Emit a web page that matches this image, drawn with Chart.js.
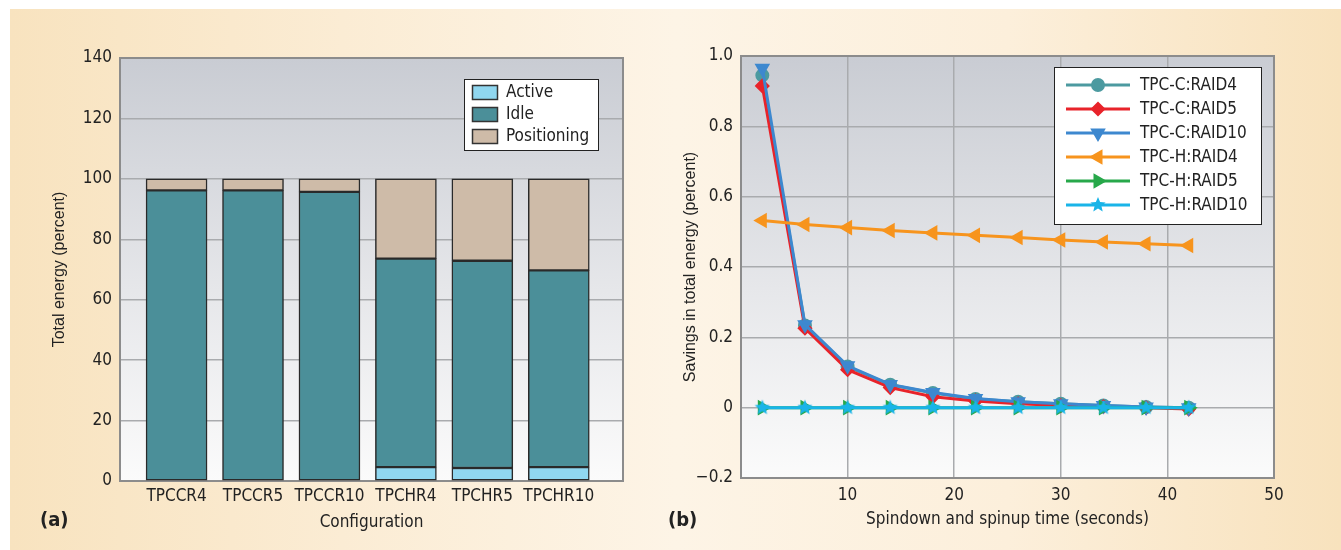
<!DOCTYPE html>
<html>
<head>
<meta charset="utf-8">
<script src="https://cdn.jsdelivr.net/npm/chart.js@4.4.1/dist/chart.umd.min.js"></script>
<style>
  html, body { margin: 0; padding: 0; background: #fff; }
  #page { position: relative; width: 1341px; height: 550px; overflow: hidden; background: #fff; }
  #bg {
    position: absolute; left: 10px; top: 9px; right: 0; bottom: 0;
    background: linear-gradient(to right, #f8e3bf 0%, #fbecd4 25%, #fdf4e6 50%, #fcefdb 75%, #f8e2bd 100%);
  }
  .box { position: absolute; top: 0; height: 550px; }
  #boxA { left: 0; width: 660px; }
  #boxB { left: 660px; width: 681px; }
  .tag {
    position: absolute; top: 507px; font: bold 20px 'DejaVu Sans Condensed', sans-serif;
    color: #222;
  }
</style>
</head>
<body>
<div id="page">
  <div id="bg"></div>
  <div class="box" id="boxA"><canvas id="energyChart"></canvas></div>
  <div class="box" id="boxB"><canvas id="savingsChart"></canvas></div>
  <div class="tag" style="left:40px">(a)</div>
  <div class="tag" style="left:668px">(b)</div>
</div>
<script>
// ---- data: panel (a)
const configLabels = ['TPCCR4', 'TPCCR5', 'TPCCR10', 'TPCHR4', 'TPCHR5', 'TPCHR10'];
const activeEnergy = [0, 0, 0, 4.6, 4.3, 4.6];
const idleEnergy = [96.2, 96.2, 95.7, 69.0, 68.6, 65.1];
const positioningEnergy = [3.8, 3.8, 4.3, 26.4, 27.1, 30.3];

// ---- data: panel (b)
const spinTimes = [2, 6, 10, 14, 18, 22, 26, 30, 34, 38, 42];
const tpccRaid4 = [0.945, 0.234, 0.117, 0.065, 0.042, 0.025, 0.017, 0.011, 0.006, 0.002, 0.0];
const tpccRaid5 = [0.915, 0.226, 0.108, 0.057, 0.031, 0.019, 0.011, 0.006, 0.003, 0.0, -0.004];
const tpccRaid10 = [0.965, 0.236, 0.119, 0.066, 0.043, 0.026, 0.017, 0.011, 0.006, 0.002, 0.0];
const tpchRaid4 = [0.532, 0.521, 0.512, 0.504, 0.497, 0.490, 0.484, 0.477, 0.471, 0.466, 0.461];
const tpchRaid5 = [0, 0, 0, 0, 0, 0, 0, 0, 0, 0, 0];
const tpchRaid10 = [0, 0, 0, 0, 0, 0, 0, 0, 0, 0, 0];

const NARROW = "'DejaVu Sans Condensed', 'Liberation Sans Narrow', sans-serif";
const REGULAR = "'Liberation Sans', Arial, sans-serif";
const FS = 17;

Chart.defaults.animation = false;
Chart.defaults.color = '#222';

// gradient plot background + grey frame
const plotFrame = {
  id: 'plotFrame',
  beforeDraw(chart) {
    const { ctx, chartArea: a } = chart;
    const g = ctx.createLinearGradient(0, a.top, 0, a.bottom);
    g.addColorStop(0, '#c9ccd3');
    g.addColorStop(0.55, '#e6e7ea');
    g.addColorStop(1, '#fbfbfb');
    ctx.save();
    ctx.fillStyle = g;
    ctx.fillRect(a.left, a.top, a.right - a.left, a.bottom - a.top);
    ctx.restore();
  },
  beforeDatasetsDraw(chart) {
    const { ctx, chartArea: a } = chart;
    ctx.save();
    ctx.strokeStyle = '#8c8c8c';
    ctx.lineWidth = 2;
    ctx.strokeRect(a.left, a.top, a.right - a.left, a.bottom - a.top);
    ctx.restore();
  }
};

// boxed legend for the bar chart
const barLegend = {
  id: 'barLegend',
  afterDraw(chart) {
    const ctx = chart.ctx;
    const x = 464, y = 79, w = 134, h = 71;
    ctx.save();
    ctx.fillStyle = '#fff';
    ctx.fillRect(x, y, w, h);
    ctx.strokeStyle = '#222';
    ctx.lineWidth = 1;
    ctx.strokeRect(x + 0.5, y + 0.5, w, h);
    ctx.font = FS + 'px ' + NARROW;
    ctx.textBaseline = 'middle';
    chart.data.datasets.forEach((ds, i) => {
      const ry = y + 13 + i * 22;
      ctx.fillStyle = ds.backgroundColor;
      ctx.fillRect(x + 8, ry - 7, 25, 14);
      ctx.strokeStyle = '#333';
      ctx.lineWidth = 1.5;
      ctx.strokeRect(x + 8.5, ry - 6.5, 25, 14);
      ctx.fillStyle = '#222';
      ctx.fillText(ds.label, x + 42, ry + 1);
    });
    ctx.restore();
  }
};

// boxed legend for the line chart
const lineLegend = {
  id: 'lineLegend',
  afterDraw(chart) {
    const ctx = chart.ctx;
    const x = 394, y = 67, w = 207, h = 157;
    ctx.save();
    ctx.fillStyle = '#fff';
    ctx.fillRect(x, y, w, h);
    ctx.strokeStyle = '#222';
    ctx.lineWidth = 1;
    ctx.strokeRect(x + 0.5, y + 0.5, w, h);
    ctx.font = FS + 'px ' + NARROW;
    ctx.textBaseline = 'middle';
    chart.data.datasets.forEach((ds, i) => {
      const ry = y + 18 + i * 24;
      ctx.strokeStyle = ds.borderColor;
      ctx.lineWidth = ds.borderWidth;
      ctx.beginPath();
      ctx.moveTo(x + 12, ry);
      ctx.lineTo(x + 76, ry);
      ctx.stroke();
      ctx.fillStyle = ds.pointBackgroundColor;
      ctx.strokeStyle = ds.pointBorderColor;
      Chart.helpers.drawPoint(ctx, {
        pointStyle: ds.pointStyle, rotation: ds.pointRotation || 0,
        radius: ds.pointRadius, borderWidth: 1
      }, x + 44, ry);
      ctx.fillStyle = '#222';
      ctx.fillText(ds.label, x + 86, ry + 1);
    });
    ctx.restore();
  }
};

function makeStar(color, r) {
  const c = document.createElement('canvas');
  const s = Math.ceil(r * 2 + 2);
  c.width = s; c.height = s;
  const g = c.getContext('2d');
  g.beginPath();
  for (let i = 0; i < 10; i++) {
    const a = -Math.PI / 2 + i * Math.PI / 5;
    const rr = i % 2 ? r * 0.45 : r;
    g.lineTo(s / 2 + rr * Math.cos(a), s / 2 + rr * Math.sin(a));
  }
  g.closePath();
  g.fillStyle = color;
  g.fill();
  return c;
}

function initEnergyChart() {
  const ctx = document.getElementById('energyChart').getContext('2d');
  const seg = (label, data, color) => ({
    label,
    data: data.map((v, i) => ({ x: i + 1, y: v })),
    backgroundColor: color, borderColor: '#2a2a2a', borderWidth: 1.5,
    borderSkipped: false, barThickness: 61
  });
  new Chart(ctx, {
    type: 'bar',
    data: {
      datasets: [
        seg('Active', activeEnergy, '#90d7f0'),
        seg('Idle', idleEnergy, '#4b8f99'),
        seg('Positioning', positioningEnergy, '#cebba8')
      ]
    },
    options: {
      responsive: true,
      maintainAspectRatio: false,
      layout: { padding: { left: 50, right: 37, top: 58, bottom: 9 } },
      scales: {
        x: {
          type: 'linear', stacked: true, min: 0.26, max: 6.84, offset: false,
          afterFit(scale) { scale.height = 60; },
          afterBuildTicks(scale) { scale.ticks = configLabels.map((_, i) => ({ value: i + 1 })); },
          grid: { display: false, drawTicks: false },
          border: { display: false },
          ticks: {
            font: { family: NARROW, size: FS }, color: '#222', padding: 5, maxRotation: 0, autoSkip: false,
            callback: v => configLabels[Math.round(v) - 1] || ''
          },
          title: { display: true, text: 'Configuration', font: { family: NARROW, size: FS }, color: '#222', padding: { top: 0, bottom: 8 } }
        },
        y: {
          stacked: true, min: 0, max: 140,
          afterFit(scale) { scale.width = 70; },
          grid: { color: '#a9abae', lineWidth: 1.5, drawTicks: false },
          border: { display: false },
          ticks: { stepSize: 20, font: { family: NARROW, size: FS }, color: '#222', padding: 8 },
          title: { display: true, text: 'Total energy (percent)', font: { family: REGULAR, size: 16 }, color: '#222', padding: 0 }
        }
      },
      plugins: { legend: { display: false }, tooltip: { enabled: false } }
    },
    plugins: [plotFrame, barLegend]
  });
}

function initSavingsChart() {
  const ctx = document.getElementById('savingsChart').getContext('2d');
  const line = (label, data, color, style, radius, rotation, order) => ({
    label,
    data: spinTimes.map((t, i) => ({ x: t, y: data[i] })),
    borderColor: color, backgroundColor: color,
    pointBackgroundColor: color, pointBorderColor: color,
    pointStyle: style, pointRadius: radius, pointRotation: rotation,
    borderWidth: 3, tension: 0, order
  });
  new Chart(ctx, {
    type: 'line',
    data: {
      datasets: [
        line('TPC-C:RAID4', tpccRaid4, '#4c9aa0', 'circle', 5.5, 0, 5),
        line('TPC-C:RAID5', tpccRaid5, '#e8232a', 'rectRot', 5.5, 0, 4),
        line('TPC-C:RAID10', tpccRaid10, '#3d88cf', 'triangle', 6, 180, 3),
        line('TPC-H:RAID4', tpchRaid4, '#f7941d', 'triangle', 6, -90, 2),
        line('TPC-H:RAID5', tpchRaid5, '#27a84a', 'triangle', 6, 90, 1),
        line('TPC-H:RAID10', tpchRaid10, '#19b4e8', makeStar('#19b4e8', 8), 8, 0, 0)
      ]
    },
    options: {
      responsive: true,
      maintainAspectRatio: false,
      layout: { padding: { left: 21, right: 67, top: 56, bottom: 12 } },
      scales: {
        x: {
          type: 'linear', min: 0, max: 50,
          afterFit(scale) { scale.height = 60; },
          grid: { color: '#a9abae', lineWidth: 1.5, drawTicks: false },
          border: { display: false },
          ticks: {
            stepSize: 10, font: { family: NARROW, size: FS }, color: '#222', padding: 7,
            callback: v => (v === 0 ? '' : String(v))
          },
          title: { display: true, text: 'Spindown and spinup time (seconds)', font: { family: NARROW, size: FS }, color: '#222', padding: { top: 0, bottom: 8 } }
        },
        y: {
          min: -0.2, max: 1.0,
          afterFit(scale) { scale.width = 60; },
          grid: { color: '#a9abae', lineWidth: 1.5, drawTicks: false },
          border: { display: false },
          ticks: {
            stepSize: 0.2, font: { family: NARROW, size: FS }, color: '#222', padding: 8,
            callback: v => {
              if (Math.abs(v) < 1e-9) return '0';
              return v.toFixed(1).replace('-', '\u2212');
            }
          },
          title: { display: true, text: 'Savings in total energy (percent)', font: { family: REGULAR, size: 16 }, color: '#222', padding: 0 }
        }
      },
      plugins: { legend: { display: false }, tooltip: { enabled: false } }
    },
    plugins: [plotFrame, lineLegend]
  });
}

window.onload = () => {
  initEnergyChart();
  initSavingsChart();
};
</script>
</body>
</html>
